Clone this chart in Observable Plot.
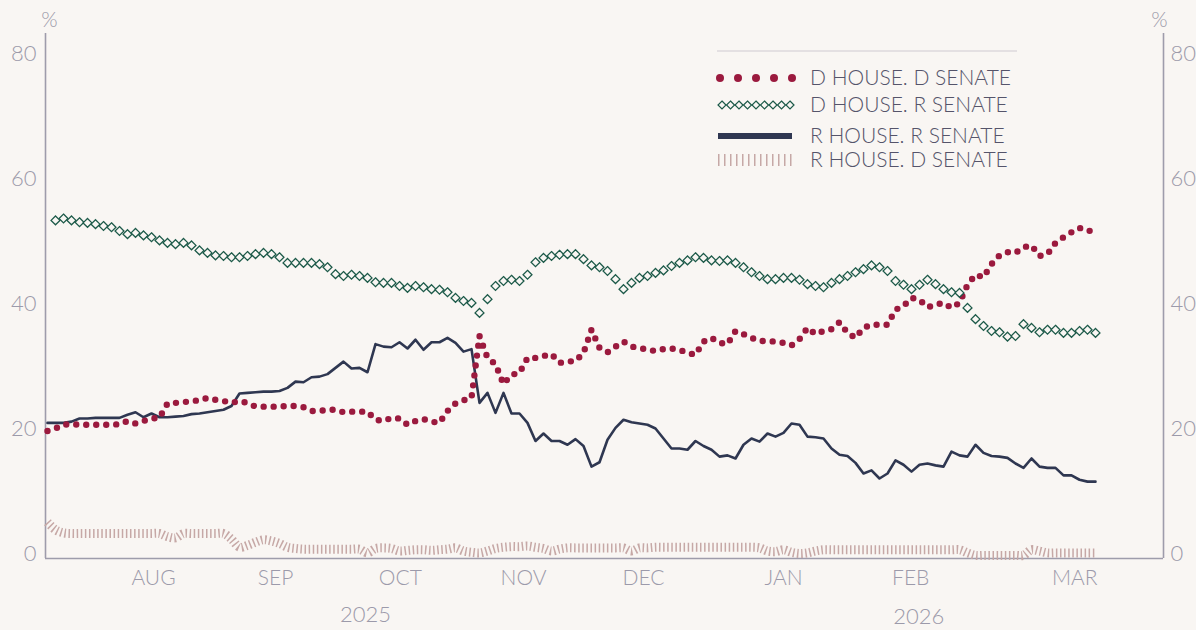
<!DOCTYPE html>
<html><head><meta charset="utf-8">
<script src="https://cdn.jsdelivr.net/npm/d3@7"></script>
<script src="https://cdn.jsdelivr.net/npm/@observablehq/plot@0.6"></script>
<style>
html,body{margin:0;padding:0;background:#f9f6f3;}
#chart{position:relative;width:1196px;height:630px;overflow:hidden;}
#legend{position:absolute;left:0;top:0;}
</style></head><body><div id="chart"></div>
<script>
// Series values, one sample per step along the time axis (share, %)
const dHouseDSenate = [19.6,20.0,20.6,20.7,20.6,20.6,20.6,20.6,20.6,20.7,
21.2,20.8,21.2,21.6,21.7,24.0,24.1,24.2,24.4,24.5,
24.9,24.6,24.4,24.1,24.4,24.1,23.5,23.5,23.5,23.5,
23.6,23.6,23.4,22.8,22.8,23.0,23.0,22.6,22.7,22.7,
22.7,21.4,21.2,21.7,21.6,20.6,21.2,21.5,21.1,20.9,
22.8,24.0,24.5,24.9,34.8,31.3,30.3,27.1,28.6,28.9,
31.3,31.3,31.6,31.9,30.5,30.7,30.8,32.1,35.8,32.9,
32.2,33.1,33.9,33.1,32.9,32.6,32.4,32.7,32.8,32.6,
32.1,31.8,33.9,34.5,33.7,33.5,35.6,35.1,34.5,34.0,
34.0,33.9,33.7,33.3,34.3,36.1,35.1,35.6,35.9,37.0,
35.3,34.5,36.1,36.6,36.6,36.6,39.0,39.6,40.9,40.6,
39.4,39.8,40.1,39.3,40.1,43.0,44.6,44.2,46.3,47.7,
48.2,48.1,49.0,49.3,47.6,47.9,49.7,50.6,51.4,52.1,
51.6,51.7];

const dHouseRSenate = [null,53.3,53.6,53.3,53.0,52.9,52.7,52.4,52.2,51.6,
51.1,51.3,50.9,50.6,50.1,49.7,49.5,49.7,49.3,48.5,
48.1,47.7,47.6,47.4,47.4,47.6,47.9,48.1,47.9,47.4,
46.5,46.5,46.5,46.5,46.3,45.8,44.7,44.4,44.6,44.4,
44.1,43.4,43.3,43.3,42.8,42.5,42.8,42.6,42.3,42.2,
41.8,40.9,40.4,40.1,38.5,40.7,42.8,43.6,43.8,43.6,
44.6,46.6,47.3,47.6,47.8,47.9,47.9,47.1,46.1,45.8,
45.2,43.9,42.3,43.3,44.1,44.4,44.9,45.3,46.0,46.5,
46.9,47.4,47.3,46.9,46.8,46.9,46.5,45.8,45.0,44.4,
43.9,43.9,44.1,44.1,43.8,43.1,42.8,42.6,43.3,43.9,
44.4,45.0,45.5,46.1,45.8,45.2,43.6,43.0,42.3,43.0,
43.8,43.1,42.3,41.8,41.7,39.3,37.5,36.4,35.6,35.4,
34.7,34.8,36.7,36.1,35.4,35.8,35.8,35.3,35.3,35.6,
35.8,35.3];

const rHouseRSenate = [20.9,20.9,20.9,21.1,21.6,21.6,21.7,21.7,21.7,21.7,
22.2,22.6,21.8,22.4,21.8,21.8,21.9,22.0,22.3,22.4,
22.6,22.8,23.0,23.6,25.6,25.7,25.8,25.9,25.9,26.0,
26.5,27.5,27.4,28.2,28.3,28.7,29.7,30.7,29.6,29.7,
29.0,33.5,33.1,33.0,33.8,32.8,34.2,32.6,33.8,33.8,
34.5,33.7,32.3,32.7,24.1,25.7,22.5,25.7,22.4,22.4,
20.9,18.0,19.2,18.0,18.0,17.4,18.3,17.2,13.9,14.6,
18.2,20.1,21.4,21.0,20.8,20.6,20.0,18.4,16.8,16.8,
16.6,18.0,17.2,16.6,15.5,15.7,15.2,17.4,18.4,17.9,
19.2,18.7,19.3,20.8,20.6,18.7,18.6,18.4,16.8,15.8,
15.6,14.5,12.8,13.3,12.0,12.8,14.9,14.2,13.1,14.2,
14.4,14.1,13.9,16.3,15.7,15.5,17.4,16.1,15.6,15.5,
15.3,14.4,13.7,15.2,13.9,13.7,13.7,12.5,12.5,11.8,
11.5,11.5];

const rHouseDSenate = [5.0,3.8,3.3,3.2,3.2,3.2,3.2,3.2,3.2,3.2,
3.2,3.2,3.2,3.2,3.2,2.7,2.5,3.2,3.2,3.2,
3.2,3.2,3.2,2.3,1.0,1.3,1.8,2.2,2.0,1.6,
1.0,0.8,0.7,0.7,0.7,0.7,0.7,0.7,0.7,0.7,
0.1,0.8,0.9,0.8,0.4,0.5,0.6,0.6,0.5,0.6,
0.7,0.9,0.4,0.2,0.1,0.4,0.8,1.0,1.1,1.1,
1.2,1.0,0.8,0.4,0.7,0.9,0.9,0.9,0.9,0.9,
0.9,0.9,0.9,0.4,0.9,0.9,1.0,1.0,1.0,1.0,
1.0,1.0,1.0,1.0,1.0,1.0,1.0,1.0,1.0,0.9,
0.4,0.3,0.6,0.2,0.0,0.1,0.4,0.6,0.6,0.6,
0.6,0.6,0.6,0.6,0.6,0.6,0.6,0.6,0.6,0.6,
0.6,0.6,0.6,0.6,0.6,0.1,-0.3,-0.3,-0.3,-0.3,
-0.3,-0.3,-0.3,0.6,0.4,0.1,0.1,0.1,0.1,0.1,
0.1,0.1];

// Axis ticks
const yTicks = [0,20,40,60,80];
const monthLabels = ["AUG","SEP","OCT","NOV","DEC","JAN","FEB","MAR"];
const monthPos = [13.25,28.5,44.1,59.5,74.5,92.0,107.9,128.4];
const yearLabels = ["2025","2026"];
const yearPos = [39.75,108.9];
const seriesNames = ["D HOUSE. D SENATE","D HOUSE. R SENATE","R HOUSE. R SENATE","R HOUSE. D SENATE"];

const bg = "#f9f6f3", axisCol = "#9e9cab", labelCol = "#9c9aaa";
const red = "#9b1a3e", green = "#1d5a49", navy = "#2f3751", hatch = "#c6a8a6";
const font = "Lato, 'Open Sans', sans-serif";

const rows = arr => arr.map((v,i)=>({i, v})).filter(d => d.v !== null);
const X0 = -0.25, X1 = 139.5, Y0 = -0.8, Y1 = 83.2;

const plot = Plot.plot({
  width: 1196, height: 630,
  marginLeft: 45, marginRight: 33, marginTop: 33, marginBottom: 72,
  style: {background: bg, fontFamily: font, overflow: "visible"},
  x: {domain: [X0, X1], axis: null},
  y: {domain: [Y0, Y1], axis: null},
  marks: [
    Plot.ruleX([X0, X1], {y1: Y0, y2: Y1, stroke: axisCol, strokeWidth: 1.6}),
    Plot.ruleY([Y0], {x1: X0, x2: X1, stroke: axisCol, strokeWidth: 1.6}),
    Plot.line(rows(rHouseDSenate), {x: "i", y: "v", stroke: hatch, strokeWidth: 9, strokeDasharray: "1.5 2.6", strokeLinecap: "butt", curve: "catmull-rom"}),
    Plot.line(rows(rHouseRSenate), {x: "i", y: "v", stroke: navy, strokeWidth: 2.6, strokeLinejoin: "round"}),
    Plot.line(rows(dHouseDSenate), {x: "i", y: "v", stroke: red, strokeWidth: 6.4, strokeDasharray: "0 10", strokeLinecap: "round"}),
    Plot.dot(rows(dHouseRSenate), {x: "i", y: "v", symbol: "diamond2", r: 4, stroke: green, fill: bg, strokeWidth: 1.3}),
    Plot.text(yTicks, {y: d => d, frameAnchor: "left", dx: -9, textAnchor: "end", text: d => String(d), fill: labelCol, fontSize: 22, fontWeight: 300}),
    Plot.text(yTicks, {y: d => d, frameAnchor: "right", dx: 7, textAnchor: "start", text: d => String(d), fill: labelCol, fontSize: 22, fontWeight: 300}),
    Plot.text(["%"], {frameAnchor: "top-left", dx: 4, dy: -21, textAnchor: "middle", text: d => d, fill: labelCol, fontSize: 21, fontWeight: 300}),
    Plot.text(["%"], {frameAnchor: "top-right", dx: -4, dy: -21, textAnchor: "middle", text: d => d, fill: labelCol, fontSize: 21, fontWeight: 300}),
    Plot.text(monthLabels, {x: (d,i) => monthPos[i], frameAnchor: "bottom", dy: 26, text: d => d, fill: labelCol, fontSize: 21, fontWeight: 300}),
    Plot.text([yearLabels[0]], {x: () => yearPos[0], frameAnchor: "bottom", dy: 63, text: d => d, fill: labelCol, fontSize: 22, fontWeight: 300}),
    Plot.text([yearLabels[1]], {x: () => yearPos[1], frameAnchor: "bottom", dy: 65, text: d => d, fill: labelCol, fontSize: 22, fontWeight: 300})
  ]
});
const chart = document.getElementById("chart");
chart.appendChild(plot);

// Legend overlay
const lg = d3.select(chart).append("svg").attr("id","legend").attr("width",1196).attr("height",200);
lg.append("line").attr("x1",717).attr("x2",1017).attr("y1",51).attr("y2",51).attr("stroke","#dcd8dc").attr("stroke-width",1.5);
const rowY = [78,105,136,160];
for (let k=0;k<5;k++) lg.append("circle").attr("cx",720+18*k).attr("cy",rowY[0]).attr("r",4).attr("fill",red);
const dsym = d3.symbol(d3.symbolDiamond2, Math.PI*3.6*3.6);
for (let k=0;k<9;k++) lg.append("path").attr("d",dsym()).attr("transform",`translate(${722+8.5*k},${rowY[1]})`).attr("fill",bg).attr("stroke",green).attr("stroke-width",1.2);
lg.append("line").attr("x1",718).attr("x2",792).attr("y1",rowY[2]).attr("y2",rowY[2]).attr("stroke",navy).attr("stroke-width",6);
lg.append("line").attr("x1",718).attr("x2",793).attr("y1",rowY[3]).attr("y2",rowY[3]).attr("stroke",hatch).attr("stroke-width",12).attr("stroke-dasharray","1.5 4.5");
seriesNames.forEach((n,k)=>{
  lg.append("text").attr("x",810).attr("y",rowY[k]+2).attr("dominant-baseline","middle")
    .attr("font-family",font).attr("font-size",21).attr("font-weight",300).attr("fill","#55546a").text(n);
});
</script></body></html>
